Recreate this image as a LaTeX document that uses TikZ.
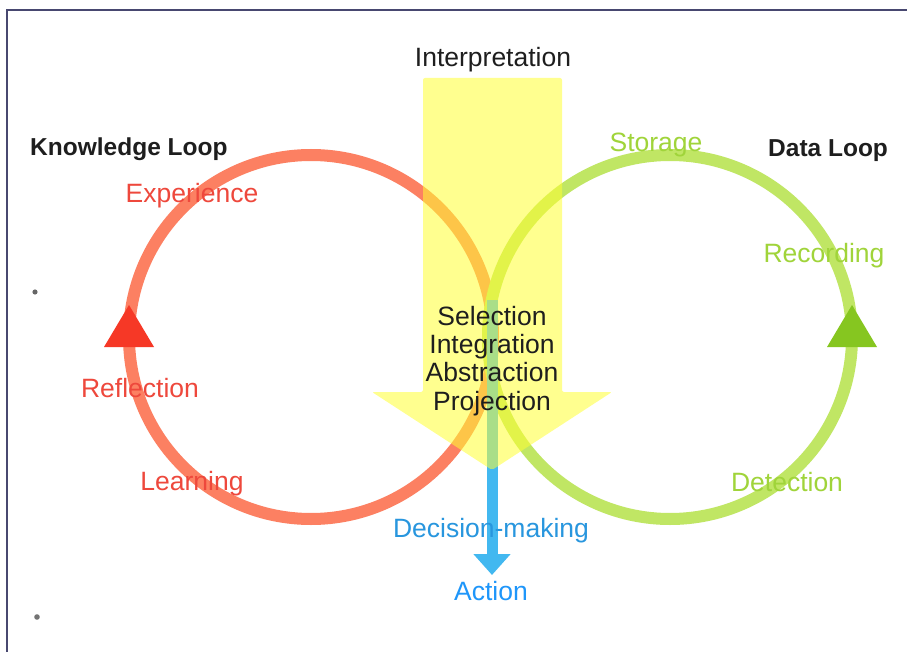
\documentclass[tikz,border=0pt]{standalone}
\usepackage{fontspec}
\setmainfont{Liberation Sans}
\usetikzlibrary{arrows.meta}
\definecolor{frameC}{RGB}{72,72,112}
\definecolor{knowC}{RGB}{252,128,98}
\definecolor{knowTxt}{RGB}{238,72,60}
\definecolor{knowTri}{RGB}{246,56,38}
\definecolor{dataC}{RGB}{192,230,100}
\definecolor{dataTxt}{RGB}{160,212,58}
\definecolor{dataTri}{RGB}{134,198,32}
\definecolor{interpC}{RGB}{255,255,52}
\definecolor{actC}{RGB}{66,184,240}
\definecolor{actTxt}{RGB}{40,150,222}
\definecolor{actTxtB}{RGB}{30,150,250}
\definecolor{inkC}{RGB}{30,30,30}
\tikzset{
  lbl/.style={inner sep=0pt, text height=19pt, text depth=0pt,
    font=\fontsize{26.5}{28.3}\selectfont},
  title/.style={lbl, text=inkC, font=\fontsize{24.5}{28}\selectfont\bfseries},
  knowlbl/.style={lbl, text=knowTxt},
  datalbl/.style={lbl, text=dataTxt},
  loop/.style={line width=12pt},
}
\begin{document}
\begin{tikzpicture}[x=1pt,y=-1pt]
\useasboundingbox (0,0) rectangle (907,652);
\fill[white] (0,0) rectangle (907,652);

% frame edges
\draw[frameC, line width=2pt] (7,652) -- (7,10) -- (907,10);
% specks
\fill[black!60] (35,292) circle [radius=2.6];
\fill[black!55] (37,617) circle [radius=2.8];

% the two loops
\draw[loop, knowC] (311,337) circle [radius=182];
\draw[loop, dataC] (670,337) circle [radius=182];
% direction marks on the loops
\fill[knowTri] (129,305) -- (154,347) -- (104,347) -- cycle;
\fill[dataTri] (852,305) -- (877,347) -- (827,347) -- cycle;

% action arrow
\coordinate (dstart) at (492,300);
\coordinate (dtip) at (492,575);
\draw[actC, line width=11pt, -{Triangle[width=36pt,length=21pt]}] (dstart) -- (dtip);

% interpretation arrow
\fill[interpC, opacity=0.55, rounded corners=2pt]
  (423,78) -- (562,78) -- (562,392) -- (612,392) -- (492,470)
  -- (372,392) -- (423,392) -- cycle;

% labels
\node[lbl, text=inkC] (interp) at (493,57) {Interpretation};
\node[title, anchor=west] (kloop) at (30,146) {Knowledge Loop};
\node[title, anchor=west] (dloop) at (768,147) {Data Loop};

\node[knowlbl] (exp) at (192,193) {Experience};
\node[knowlbl] (refl) at (140,388) {Reflection};
\node[knowlbl] (learn) at (192,481) {Learning};

\node[datalbl] (store) at (656,142) {Storage};
\node[datalbl] (rec) at (824,253) {Recording};
\node[datalbl] (detect) at (787,482) {Detection};

\node[lbl, text=inkC] (sel) at (492,316) {Selection};
\node[lbl, text=inkC] (integ) at (492,344) {Integration};
\node[lbl, text=inkC] (abst) at (492,372) {Abstraction};
\node[lbl, text=inkC] (proj) at (492,401) {Projection};

\node[lbl, text=actTxt] (dec) at (491,528) {Decision-making};
\node[lbl, text=actTxtB] (act) at (491,591) {Action};
\end{tikzpicture}
\end{document}
